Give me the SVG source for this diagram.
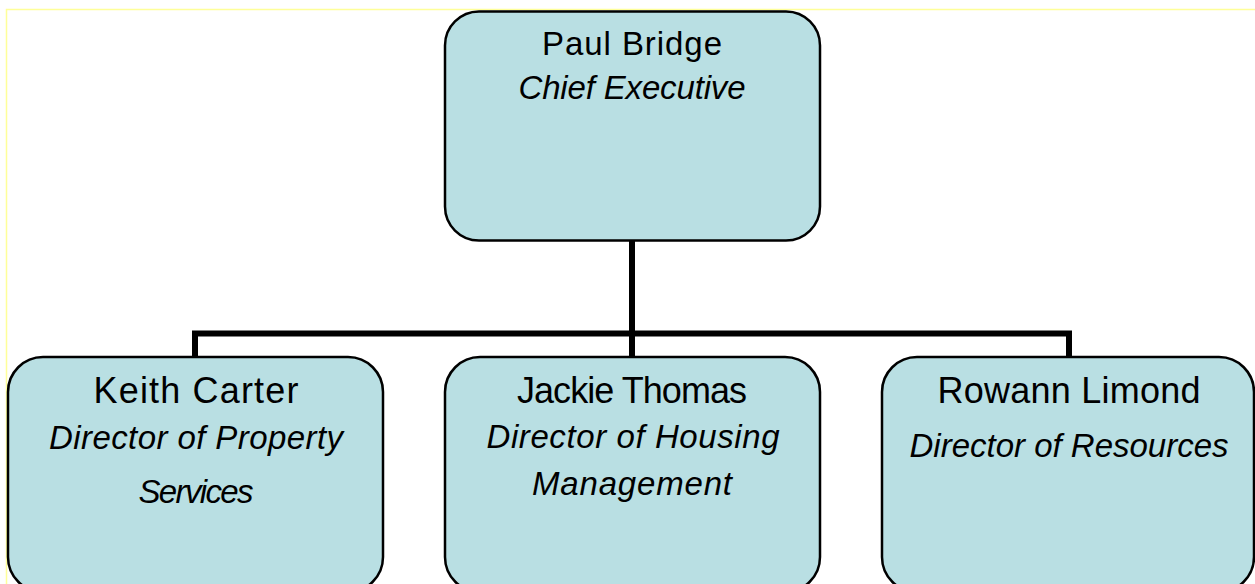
<svg xmlns="http://www.w3.org/2000/svg" width="1255" height="584" viewBox="0 0 1255 584">
<style>
.box{fill:#B9DFE3;stroke:#000;stroke-width:2.5}
.name{font-family:"Liberation Sans",Arial,sans-serif;fill:#000;text-anchor:middle}
.role{font-family:"Liberation Sans",Arial,sans-serif;font-style:italic;fill:#000;text-anchor:middle}
.conn{fill:none;stroke:#000;stroke-width:6;stroke-linejoin:miter}
</style>
<rect x="0" y="0" width="1255" height="584" fill="#fff"/>
<path d="M6.5,584 V9.5 H1255" fill="none" stroke="#FFFF99" stroke-width="1.5"/>
<g id="connectors">
<path class="conn" d="M195,357 V333.5 H1069 V357"/>
<path class="conn" d="M632,241 V357"/>
</g>
<g id="node-paul">
<rect class="box" x="445" y="11.5" width="375" height="229" rx="34"/>
<text class="name" x="632" y="55" font-size="33" textLength="180">Paul Bridge</text>
<text class="role" x="632" y="99" font-size="33" textLength="227">Chief Executive</text>
</g>
<g id="node-keith">
<rect class="box" x="8" y="357" width="375" height="235" rx="35"/>
<text class="name" x="196" y="403" font-size="36" textLength="205">Keith Carter</text>
<text class="role" x="196" y="449" font-size="33" textLength="294">Director of Property</text>
<text class="role" x="196" y="503" font-size="33" textLength="115">Services</text>
</g>
<g id="node-jackie">
<rect class="box" x="445" y="357" width="375" height="235" rx="35"/>
<text class="name" x="632" y="403" font-size="36" textLength="230">Jackie Thomas</text>
<text class="role" x="633" y="448" font-size="33" textLength="293">Director of Housing</text>
<text class="role" x="632" y="495" font-size="33" textLength="200">Management</text>
</g>
<g id="node-rowann">
<rect class="box" x="882" y="357" width="372" height="235" rx="35"/>
<text class="name" x="1069" y="403" font-size="36" textLength="263">Rowann Limond</text>
<text class="role" x="1069" y="457" font-size="33" textLength="319">Director of Resources</text>
</g>
</svg>
